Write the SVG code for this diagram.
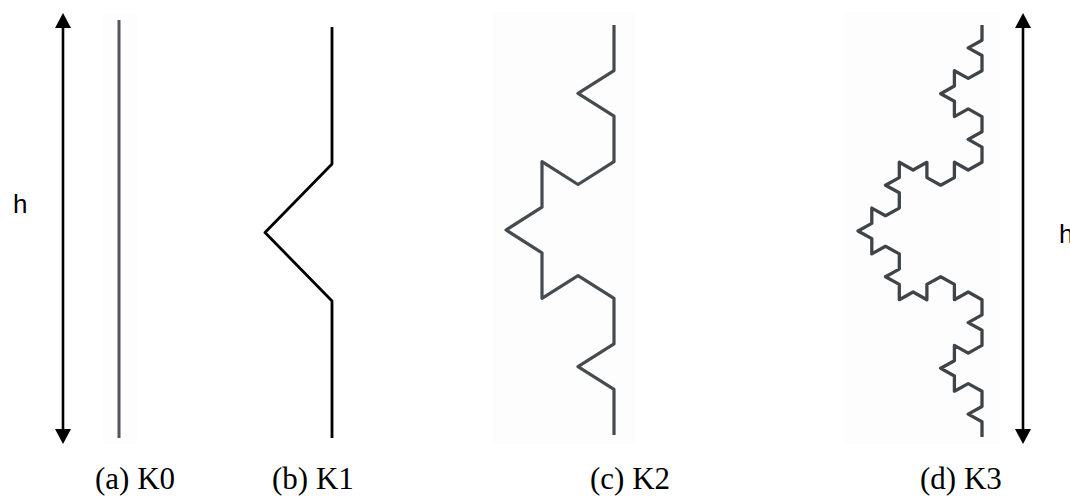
<svg xmlns="http://www.w3.org/2000/svg" width="1070" height="499" viewBox="0 0 1070 499">
<style>
.panel{fill:#fdfdfd;stroke:none}
.curve{fill:none;stroke-linejoin:round;stroke-linecap:butt}
.arrow{stroke:#000;stroke-width:2.6;fill:none}
.lbl{font-family:"Liberation Serif","Times New Roman",serif;font-size:31px;fill:#000}
.h{font-family:"Liberation Sans",Arial,sans-serif;font-size:26px;fill:#000}
</style>
<defs>
<marker id="ah" markerUnits="userSpaceOnUse" viewBox="0 0 15 16" markerWidth="15" markerHeight="16" refX="0" refY="8" orient="auto-start-reverse">
<path d="M0,0 L15,8 L0,16 Z" fill="#000"/>
</marker>
</defs>
<rect width="1070" height="499" fill="#fff"/>
<g id="connectors">
<line class="arrow" x1="63" y1="28" x2="63" y2="429" marker-start="url(#ah)" marker-end="url(#ah)"/>
<line class="arrow" x1="1023" y1="28" x2="1023" y2="429" marker-start="url(#ah)" marker-end="url(#ah)"/>
</g>
<g id="K0">
<rect class="panel" x="103" y="13" width="34" height="431"/>
<line x1="119" y1="20" x2="119" y2="438" stroke="#50565b" stroke-width="3"/>
</g>
<g id="K1">
<path class="curve" d="M332,27 L332,164 L265,232.5 L332,301 L332,438" stroke="#000" stroke-width="2.8"/>
</g>
<g id="K2">
<rect class="panel" x="493" y="12" width="142" height="432"/>
<path class="curve" stroke="#454b4f" stroke-width="3.2" d="M614,25 L614,70.6 L578,93.3 L614,116.1 L614,161.7 L578,184.5 L542,161.7 L542,207.2 L506,230 L542,252.8 L542,298.3 L578,275.6 L614,298.3 L614,343.9 L578,366.7 L614,389.4 L614,435"/>
</g>
<g id="K3">
<rect class="panel" x="843" y="12" width="157" height="432"/>
<path class="curve" stroke="#3e4448" stroke-width="3.3" d="M982,25 L982,40.3 L968.2,47.9 L982,55.5 L982,70.8 L968.2,78.4 L954.4,70.8 L954.4,86 L940.7,93.7 L954.4,101.3 L954.4,116.6 L968.2,108.9 L982,116.6 L982,131.8 L968.2,139.4 L982,147.1 L982,162.3 L968.2,170 L954.4,162.3 L954.4,177.6 L940.7,185.2 L926.9,177.6 L926.9,162.3 L913.1,170 L899.3,162.3 L899.3,177.6 L885.5,185.2 L899.3,192.8 L899.3,208.1 L885.5,215.7 L871.8,208.1 L871.8,223.4 L858,231 L871.8,238.6 L871.8,253.9 L885.5,246.3 L899.3,253.9 L899.3,269.1 L885.5,276.8 L899.3,284.4 L899.3,299.7 L913.1,292 L926.9,299.7 L926.9,284.4 L940.7,276.8 L954.4,284.4 L954.4,299.7 L968.2,292 L982,299.7 L982,314.9 L968.2,322.6 L982,330.2 L982,345.4 L968.2,353.1 L954.4,345.4 L954.4,360.7 L940.7,368.3 L954.4,376 L954.4,391.2 L968.2,383.6 L982,391.2 L982,406.5 L968.2,414.1 L982,421.7 L982,437"/>
</g>
<g id="labels">
<text class="h" x="13" y="213">h</text>
<text class="h" x="1059" y="243">h</text>
<text class="lbl" x="95" y="489">(a) K0</text>
<text class="lbl" x="272" y="489">(b) K1</text>
<text class="lbl" x="590" y="489">(c) K2</text>
<text class="lbl" x="920" y="489">(d) K3</text>
</g>
</svg>
